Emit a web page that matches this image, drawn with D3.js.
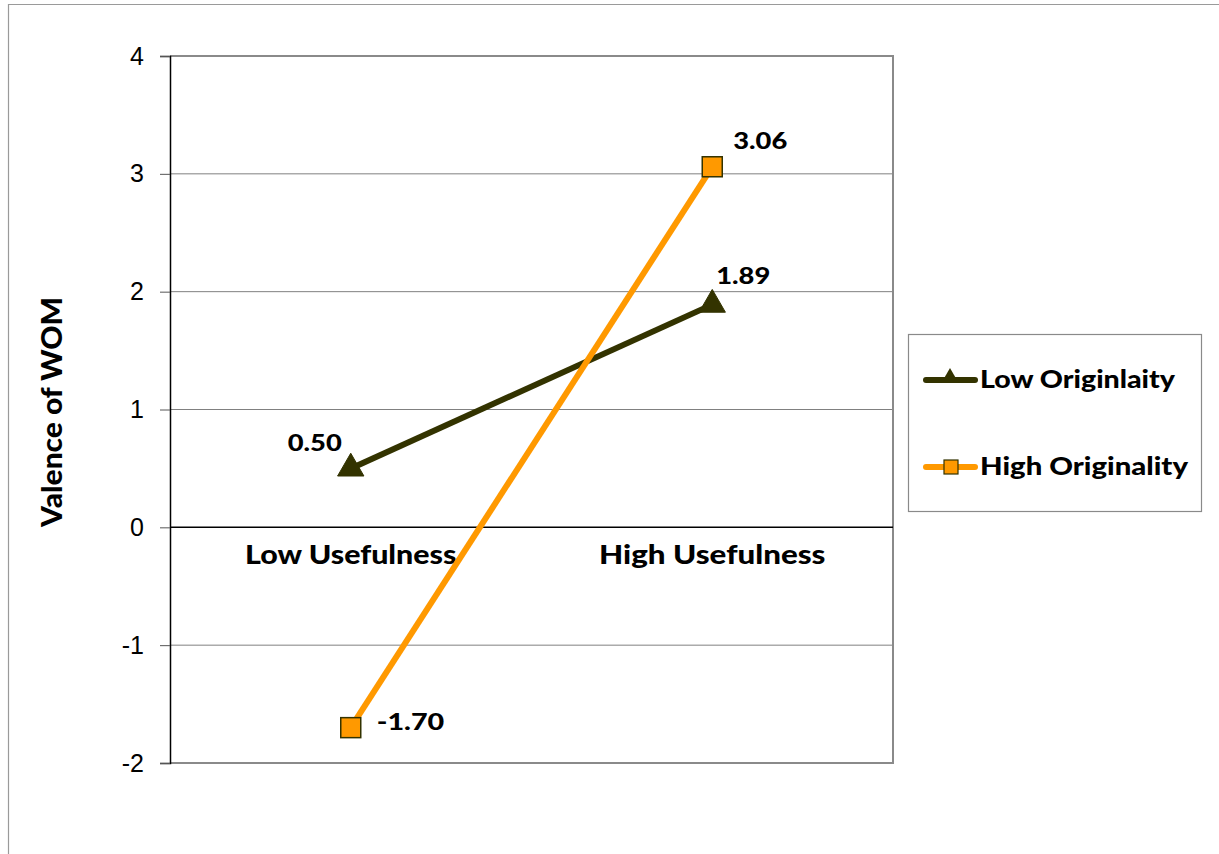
<!DOCTYPE html>
<html>
<head>
<meta charset="utf-8">
<script src="https://cdn.jsdelivr.net/npm/d3@7"></script>
<style>
  html, body { margin: 0; padding: 0; background: #fff; }
  svg { display: block; }
</style>
</head>
<body>
<svg id="chart" width="1219" height="854"></svg>
<script>
// Interaction plot: valence of word of mouth by usefulness and originality
const categories = ["Low Usefulness", "High Usefulness"];
const seriesNames = ["Low Originlaity", "High Originality"];
const lowOriginality = [0.50, 1.89];
const highOriginality = [-1.70, 3.06];
const yTicks = [-2, -1, 0, 1, 2, 3, 4];
const yTitle = "Valence of WOM";

const svg = d3.select("#chart");
const boldFont = "Lato, 'Open Sans', sans-serif";
const axisFont = "'Liberation Sans', Arial, sans-serif";

const plot = { left: 170, right: 893, top: 56, bottom: 763 };

const x = d3.scaleBand()
  .domain(categories)
  .range([plot.left, plot.right]);
const y = d3.scaleLinear()
  .domain([-2, 4])
  .range([plot.bottom, plot.top]);

// geometric bold lettering is wide; widen the bold texts to their set widths
function widen(sel, perChar) {
  sel.each(function () {
    const t = d3.select(this);
    const n = t.text().length;
    t.attr("textLength", n * perChar).attr("lengthAdjust", "spacingAndGlyphs");
  });
}

// outer frame of the chart
svg.append("line").attr("x1", 8).attr("x2", 1219).attr("y1", 4.5).attr("y2", 4.5)
  .attr("stroke", "#9a9a9a").attr("stroke-width", 1.2);
svg.append("line").attr("x1", 8.5).attr("x2", 8.5).attr("y1", 4).attr("y2", 854)
  .attr("stroke", "#9a9a9a").attr("stroke-width", 1.2);

// horizontal gridlines
svg.append("g")
  .selectAll("line")
  .data(yTicks.filter(t => t !== 0 && t !== -2 && t !== 4))
  .join("line")
  .attr("x1", plot.left).attr("x2", plot.right)
  .attr("y1", d => y(d)).attr("y2", d => y(d))
  .attr("stroke", "#808080").attr("stroke-width", 1);

// plot area border (top, right, bottom)
svg.append("path")
  .attr("d", `M${plot.left},${y(4)}H${plot.right}V${y(-2)}H${plot.left}`)
  .attr("fill", "none").attr("stroke", "#8a8a8a").attr("stroke-width", 2);

// value axis
const yAxis = d3.axisLeft(y).tickValues(yTicks).tickSize(10).tickPadding(16)
  .tickFormat(d3.format("d"));
const gy = svg.append("g").attr("transform", `translate(${plot.left},0)`).call(yAxis);
gy.select(".domain").attr("stroke", "#000").attr("stroke-width", 1.5);
gy.selectAll(".tick line").attr("stroke", "#555").attr("stroke-width", 1);
gy.selectAll(".tick text")
  .attr("font-family", axisFont).attr("font-size", 25).attr("fill", "#000")
  .text(d => d < 0 ? "-" + Math.abs(d) : d);

// category axis along zero
svg.append("line")
  .attr("x1", plot.left).attr("x2", plot.right)
  .attr("y1", y(0)).attr("y2", y(0))
  .attr("stroke", "#000").attr("stroke-width", 1.5);

svg.append("g")
  .selectAll("text")
  .data(categories)
  .join("text")
  .attr("x", d => x(d) + x.bandwidth() / 2)
  .attr("y", y(0) + 37)
  .attr("text-anchor", "middle")
  .attr("font-family", boldFont).attr("font-weight", 900).attr("font-size", 26)
  .attr("fill", "#000")
  .text(d => d)
  .call(widen, 15.1);

// axis title
svg.append("text")
  .attr("transform", `translate(62,${(297 + 527) / 2}) rotate(-90)`)
  .attr("text-anchor", "middle")
  .attr("font-family", boldFont).attr("font-weight", 900).attr("font-size", 28)
  .attr("fill", "#000")
  .text(yTitle)
  .call(widen, 230 / 14);

// series lines and markers
const cx = d => x(d) + x.bandwidth() / 2;
const series = [
  { name: seriesNames[0], values: lowOriginality, color: "#333300", marker: "triangle" },
  { name: seriesNames[1], values: highOriginality, color: "#FF9900", marker: "square" }
];

const line = d3.line().x(d => cx(d.cat)).y(d => y(d.v));
const triangle = d3.symbol().type(d3.symbolTriangle).size(300);

series.forEach(s => {
  const pts = categories.map((c, i) => ({ cat: c, v: s.values[i] }));
  svg.append("path").datum(pts)
    .attr("d", line)
    .attr("fill", "none").attr("stroke", s.color).attr("stroke-width", 6);
  const g = svg.append("g");
  if (s.marker === "triangle") {
    g.selectAll("path").data(pts).join("path")
      .attr("d", triangle)
      .attr("transform", d => `translate(${cx(d.cat)},${y(d.v)})`)
      .attr("fill", "#333300").attr("stroke", "#333300").attr("stroke-width", 1);
  } else {
    g.selectAll("rect").data(pts).join("rect")
      .attr("x", d => cx(d.cat) - 10).attr("y", d => y(d.v) - 10)
      .attr("width", 20).attr("height", 20)
      .attr("fill", "#FF9900").attr("stroke", "#333300").attr("stroke-width", 1.5);
  }
});

// value labels
const labelPos = [
  { v: lowOriginality[0], cat: categories[0], dx: -63, dy: -17 },
  { v: lowOriginality[1], cat: categories[1], dx: 4, dy: -21 },
  { v: highOriginality[0], cat: categories[0], dx: 26, dy: 2 },
  { v: highOriginality[1], cat: categories[1], dx: 21, dy: -18 }
];
svg.append("g")
  .selectAll("text")
  .data(labelPos)
  .join("text")
  .attr("x", d => cx(d.cat) + d.dx)
  .attr("y", d => y(d.v) + d.dy)
  .attr("font-family", boldFont).attr("font-weight", 900).attr("font-size", 22)
  .attr("fill", "#000")
  .text(d => d3.format(".2f")(d.v).replace("−", "-"))
  .call(widen, 13.5);

// legend
const lg = svg.append("g");
lg.append("rect")
  .attr("x", 908.5).attr("y", 334.5).attr("width", 293).attr("height", 177)
  .attr("fill", "#fff").attr("stroke", "#8a8a8a").attr("stroke-width", 1.2);
series.forEach((s, i) => {
  const ly = 380 + i * 87;
  lg.append("line")
    .attr("x1", 926).attr("x2", 975).attr("y1", ly).attr("y2", ly)
    .attr("stroke", s.color).attr("stroke-width", 6).attr("stroke-linecap", "round");
  if (s.marker === "triangle") {
    lg.append("path").attr("d", d3.symbol().type(d3.symbolTriangle).size(130))
      .attr("transform", `translate(950,${ly - 2})`)
      .attr("fill", "#333300");
  } else {
    lg.append("rect").attr("x", 944).attr("y", ly - 7).attr("width", 14).attr("height", 14)
      .attr("fill", "#FF9900").attr("stroke", "#333300").attr("stroke-width", 1.2);
  }
  lg.append("text")
    .attr("x", 980).attr("y", ly + 8)
    .attr("font-family", boldFont).attr("font-weight", 900).attr("font-size", 24)
    .attr("fill", "#000")
    .text(s.name)
    .call(widen, 13.0);
});
</script>
</body>
</html>
